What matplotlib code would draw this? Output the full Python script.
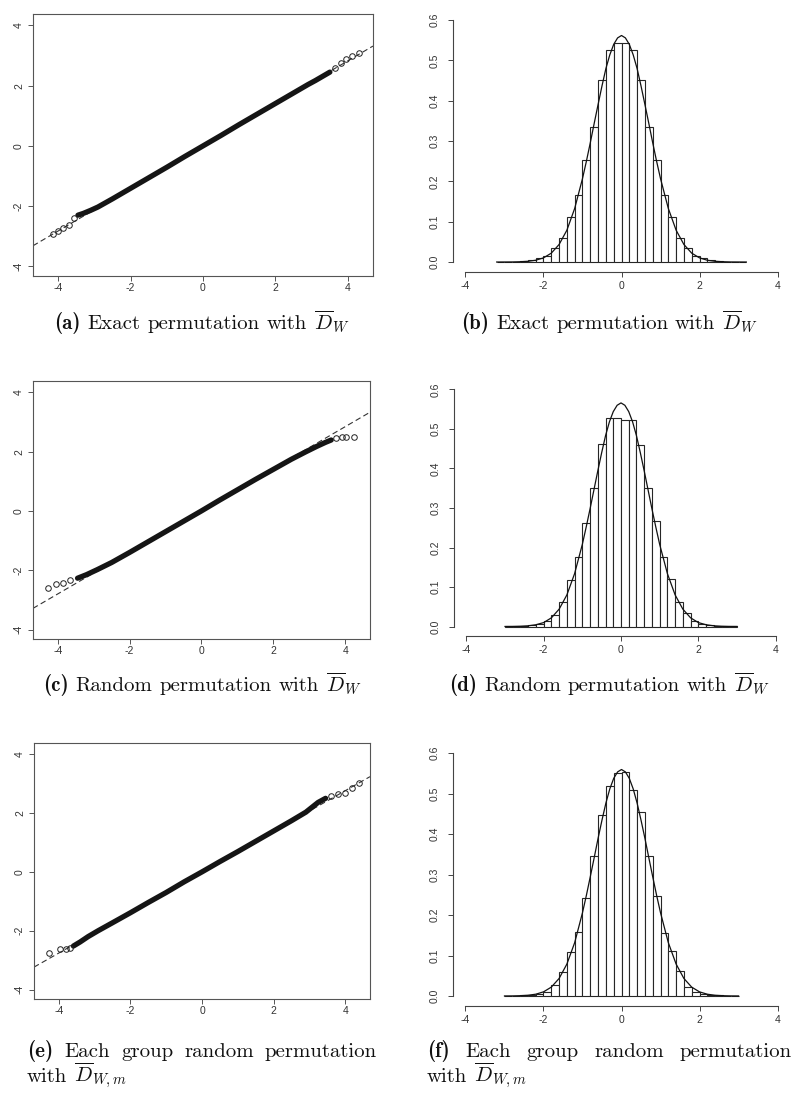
import numpy as np
import matplotlib
matplotlib.use("Agg")
import matplotlib.pyplot as plt

# =========================================
# 1. Values
# =========================================
W, H = 796, 1096

# QQ plots: theoretical quantile vs. sample quantile (points along the band)
qq_a_theo = [-4.14, -4.0, -3.85, -3.7, -3.55, -3.45, -3.3, -3.1, -2.9, -2.5, -2.0, -1.5, -1.0, -0.5, 0.0,
             0.5, 1.0, 1.5, 2.0, 2.5, 2.9, 3.1, 3.3, 3.5, 3.65, 3.8, 3.95, 4.1, 4.3]
qq_a_samp = [-2.92, -2.84, -2.74, -2.62, -2.40, -2.30, -2.24, -2.14, -2.03, -1.76, -1.41, -1.06, -0.71, -0.35, 0.0,
             0.35, 0.71, 1.06, 1.41, 1.76, 2.04, 2.17, 2.31, 2.45, 2.60, 2.76, 2.90, 2.98, 3.08]

qq_c_theo = [-4.27, -4.05, -3.85, -3.65, -3.45, -3.2, -2.9, -2.5, -2.0, -1.5, -1.0, -0.5, 0.0,
             0.5, 1.0, 1.5, 2.0, 2.5, 2.9, 3.2, 3.45, 3.61, 3.75, 3.9, 4.02, 4.25]
qq_c_samp = [-2.59, -2.48, -2.42, -2.34, -2.27, -2.15, -1.98, -1.74, -1.40, -1.05, -0.70, -0.35, 0.0,
             0.36, 0.71, 1.06, 1.40, 1.74, 1.99, 2.17, 2.31, 2.39, 2.45, 2.48, 2.48, 2.50]

qq_e_theo = [-4.28, -3.96, -3.8, -3.68, -3.59, -3.4, -3.18, -2.9, -2.5, -2.0, -1.5, -1.0, -0.5, 0.0,
             0.5, 1.0, 1.5, 2.0, 2.5, 2.9, 3.24, 3.45, 3.61, 3.8, 3.98, 4.2, 4.39]
qq_e_samp = [-2.77, -2.61, -2.61, -2.60, -2.52, -2.38, -2.20, -2.00, -1.73, -1.39, -1.04, -0.70, -0.34, 0.0,
             0.35, 0.69, 1.04, 1.39, 1.74, 2.03, 2.36, 2.50, 2.57, 2.64, 2.69, 2.85, 3.02]

# dense part of each QQ cloud (beyond it the points are seen one by one)
band_a = (-3.45, 3.5)
band_c = (-3.45, 3.61)
band_e = (-3.59, 3.45)

# reference lines (slope, intercept)
line_a = (0.707, 0.0)
line_c = (0.705, 0.02)
line_e = (0.69, 0.0)

# histograms (bin width 0.2), density heights
edges_b = np.round(np.arange(-3.2, 3.21, 0.2), 1)
hist_b = [0.0005, 0.0005, 0.001, 0.002, 0.004, 0.010, 0.016, 0.035, 0.059, 0.111, 0.167, 0.253, 0.336, 0.451, 0.526, 0.544,
          0.544, 0.526, 0.451, 0.336, 0.253, 0.167, 0.111, 0.059, 0.035, 0.015, 0.010, 0.004, 0.002, 0.001, 0.0005, 0.0005]

edges_df = np.round(np.arange(-3.0, 3.01, 0.2), 1)
hist_d = [0.0005, 0.001, 0.002, 0.003, 0.006, 0.015, 0.030, 0.061, 0.118, 0.177, 0.261, 0.350, 0.463, 0.527, 0.529,
          0.522, 0.522, 0.459, 0.350, 0.267, 0.175, 0.120, 0.063, 0.034, 0.013, 0.007, 0.003, 0.002, 0.001, 0.0005]
hist_f = [0.0005, 0.001, 0.002, 0.003, 0.005, 0.011, 0.027, 0.060, 0.108, 0.157, 0.242, 0.345, 0.448, 0.518, 0.551,
          0.553, 0.510, 0.456, 0.346, 0.246, 0.155, 0.112, 0.063, 0.023, 0.011, 0.005, 0.003, 0.002, 0.001, 0.0005]

# overlaid density curves
curve_x_b = [-3.2, -3.0, -2.8, -2.6, -2.4, -2.2, -2.0, -1.8, -1.6, -1.4, -1.2, -1.0, -0.9, -0.8, -0.7, -0.6, -0.5,
             -0.4, -0.3, -0.2, -0.1, 0.0, 0.1, 0.2, 0.3, 0.4, 0.5, 0.6, 0.7, 0.8, 0.9, 1.0, 1.2, 1.4, 1.6, 1.8,
             2.0, 2.2, 2.4, 2.6, 2.8, 3.0, 3.2]
curve_b = [0.0, 0.0001, 0.0002, 0.0007, 0.0018, 0.0044, 0.0103, 0.022, 0.0435, 0.079, 0.133, 0.207, 0.250, 0.296,
           0.344, 0.391, 0.437, 0.480, 0.514, 0.540, 0.556, 0.562, 0.556, 0.540, 0.514, 0.480, 0.437, 0.391, 0.344,
           0.296, 0.250, 0.207, 0.133, 0.079, 0.0435, 0.022, 0.0103, 0.0044, 0.0018, 0.0007, 0.0002, 0.0001, 0.0]

curve_x_df = [-3.0, -2.8, -2.6, -2.4, -2.2, -2.0, -1.8, -1.6, -1.4, -1.2, -1.0, -0.9, -0.8, -0.7, -0.6, -0.5,
              -0.4, -0.3, -0.2, -0.1, 0.0, 0.1, 0.2, 0.3, 0.4, 0.5, 0.6, 0.7, 0.8, 0.9, 1.0, 1.2, 1.4, 1.6, 1.8,
              2.0, 2.2, 2.4, 2.6, 2.8, 3.0]
curve_d = [0.0001, 0.0002, 0.0007, 0.0018, 0.0045, 0.010, 0.022, 0.044, 0.080, 0.134, 0.208, 0.252, 0.298, 0.346,
           0.394, 0.440, 0.483, 0.518, 0.544, 0.560, 0.566, 0.560, 0.544, 0.518, 0.483, 0.440, 0.394, 0.346, 0.298,
           0.252, 0.208, 0.134, 0.080, 0.044, 0.022, 0.010, 0.0045, 0.0018, 0.0007, 0.0002, 0.0001]
curve_f = [0.0001, 0.0002, 0.0007, 0.0018, 0.0044, 0.0102, 0.0219, 0.0433, 0.079, 0.132, 0.206, 0.249, 0.295, 0.342,
           0.390, 0.435, 0.477, 0.512, 0.538, 0.554, 0.560, 0.554, 0.538, 0.512, 0.477, 0.435, 0.390, 0.342, 0.295,
           0.249, 0.206, 0.132, 0.079, 0.0433, 0.0219, 0.0102, 0.0044, 0.0018, 0.0007, 0.0002, 0.0001]

qq_ticks = [-4, -2, 0, 2, 4]
qq_ticklabels = ["-4", "-2", "0", "2", "4"]
dens_yticks = [0.0, 0.1, 0.2, 0.3, 0.4, 0.5, 0.6]
dens_yticklabels = ["0.0", "0.1", "0.2", "0.3", "0.4", "0.5", "0.6"]

# =========================================
# 2. Figure setup
# =========================================
plt.rcParams["mathtext.fontset"] = "cm"
plt.rcParams["axes.unicode_minus"] = False

fig = plt.figure(figsize=(W / 100, H / 100), dpi=100)
INK = "#262626"
TICK_FONT = dict(family="Liberation Sans", size=7.5, color="#333333")


def add_ax(left, top, right, bottom):
    # pixel box (from top-left corner) -> figure fraction
    return fig.add_axes([left / W, 1 - bottom / H, (right - left) / W, (bottom - top) / H])


def qq_panel(ax, theo, samp, band, line):
    theo = np.asarray(theo)
    samp = np.asarray(samp)
    inner = (theo >= band[0]) & (theo <= band[1])
    ax.axline((0, line[1]), slope=line[0], color="#333333", lw=0.8, ls=(0, (5, 3)))
    ax.plot(theo[inner], samp[inner], color="#151515", lw=3.8, solid_capstyle="round")
    ax.plot(theo[~inner], samp[~inner], "o", ms=4, mfc="none", mec="#222222", mew=0.7)
    ax.set_xlim(-4.69, 4.69)
    ax.set_ylim(-4.32, 4.38)
    ax.set_xticks(qq_ticks)
    ax.set_xticklabels(qq_ticklabels, fontdict=TICK_FONT)
    ax.set_yticks(qq_ticks)
    ax.set_yticklabels(qq_ticklabels, fontdict=TICK_FONT, rotation=90, va="center")
    for s in ax.spines.values():
        s.set_color("#555555")
        s.set_linewidth(0.8)
    ax.tick_params(axis="x", direction="out", length=3.5, width=0.7, color="#555555", pad=1.5)
    ax.tick_params(axis="y", direction="out", length=3.5, width=0.7, color="#555555", pad=3)


def hist_panel(ax, edges, heights, cx, cy):
    ax.bar(edges[:-1], heights, width=np.diff(edges), align="edge",
           facecolor="white", edgecolor=INK, linewidth=0.8)
    ax.plot(cx, cy, color="#111111", lw=0.9)
    ax.set_xlim(-4.32, 4.32)
    ax.set_ylim(-0.024, 0.624)
    ax.spines["top"].set_visible(False)
    ax.spines["right"].set_visible(False)
    ax.spines["left"].set_bounds(0, 0.6)
    ax.spines["bottom"].set_bounds(-4, 4)
    for s in ("left", "bottom"):
        ax.spines[s].set_color("#444444")
        ax.spines[s].set_linewidth(0.8)
    ax.set_xticks(qq_ticks)
    ax.set_xticklabels(qq_ticklabels, fontdict=TICK_FONT)
    ax.set_yticks(dens_yticks)
    ax.set_yticklabels(dens_yticklabels, fontdict=TICK_FONT, rotation=90, va="center")
    ax.tick_params(axis="x", direction="out", length=3.5, width=0.7, color="#444444", pad=3)
    ax.tick_params(axis="y", direction="out", length=3.5, width=0.7, color="#444444", pad=6)


# =========================================
# 3. Panels
# =========================================
ax_a = add_ax(33, 14, 373, 276)
qq_panel(ax_a, qq_a_theo, qq_a_samp, band_a, line_a)
ax_c = add_ax(33, 381, 370, 639)
qq_panel(ax_c, qq_c_theo, qq_c_samp, band_c, line_c)
ax_e = add_ax(34, 743, 370, 999)
qq_panel(ax_e, qq_e_theo, qq_e_samp, band_e, line_e)

ax_b = add_ax(453, 10.5, 790, 271.7)
hist_panel(ax_b, edges_b, hist_b, curve_x_b, curve_b)
ax_d = add_ax(454, 380, 788, 636)
hist_panel(ax_d, edges_df, hist_d, curve_x_df, curve_d)
ax_f = add_ax(453, 743.6, 790, 1005.7)
hist_panel(ax_f, edges_df, hist_f, curve_x_df, curve_f)

# =========================================
# 4. Captions (LaTeX-like)
# =========================================
CAP_FS = 15
renderer = fig.canvas.get_renderer()


def caption_line(words, x0, x1, y, mode):
    texts = [fig.text(0, 1 - y / H, w, family=fam, fontsize=CAP_FS, va="baseline", color="#111111")
             for w, fam in words]
    widths = [t.get_window_extent(renderer).width for t in texts]
    space = 0.333 * CAP_FS * 100 / 72
    if mode == "justify":
        gap = (x1 - x0 - sum(widths)) / (len(words) - 1)
        x = x0
    elif mode == "center":
        gap = space
        x = (x0 + x1) / 2 - (sum(widths) + gap * (len(words) - 1)) / 2
    else:
        gap = space
        x = x0
    for t, w in zip(texts, widths):
        t.set_x(x / W)
        x += w + gap


def short_caption(tag, body, x0, x1, y):
    caption_line([(tag, "cmb10")] + [(w, "cmr10") for w in body.split(" ")], x0, x1, y, "center")


short_caption("(a)", r"Exact permutation with $\overline{D}_W$", 27, 377, 329)
short_caption("(b)", r"Exact permutation with $\overline{D}_W$", 427, 792, 329)
short_caption("(c)", r"Random permutation with $\overline{D}_W$", 27, 377, 691)
short_caption("(d)", r"Random permutation with $\overline{D}_W$", 427, 792, 691)

for tag, x0, x1 in (("(e)", 27, 377), ("(f)", 427, 792)):
    caption_line([(tag, "cmb10"), ("Each", "cmr10"), ("group", "cmr10"), ("random", "cmr10"),
                  ("permutation", "cmr10")], x0, x1, 1057, "justify")
    caption_line([("with", "cmr10"), (r"$\overline{D}_{W,m}$", "cmr10")], x0, x1, 1082, "left")

fig.savefig("out.png", dpi=100)
